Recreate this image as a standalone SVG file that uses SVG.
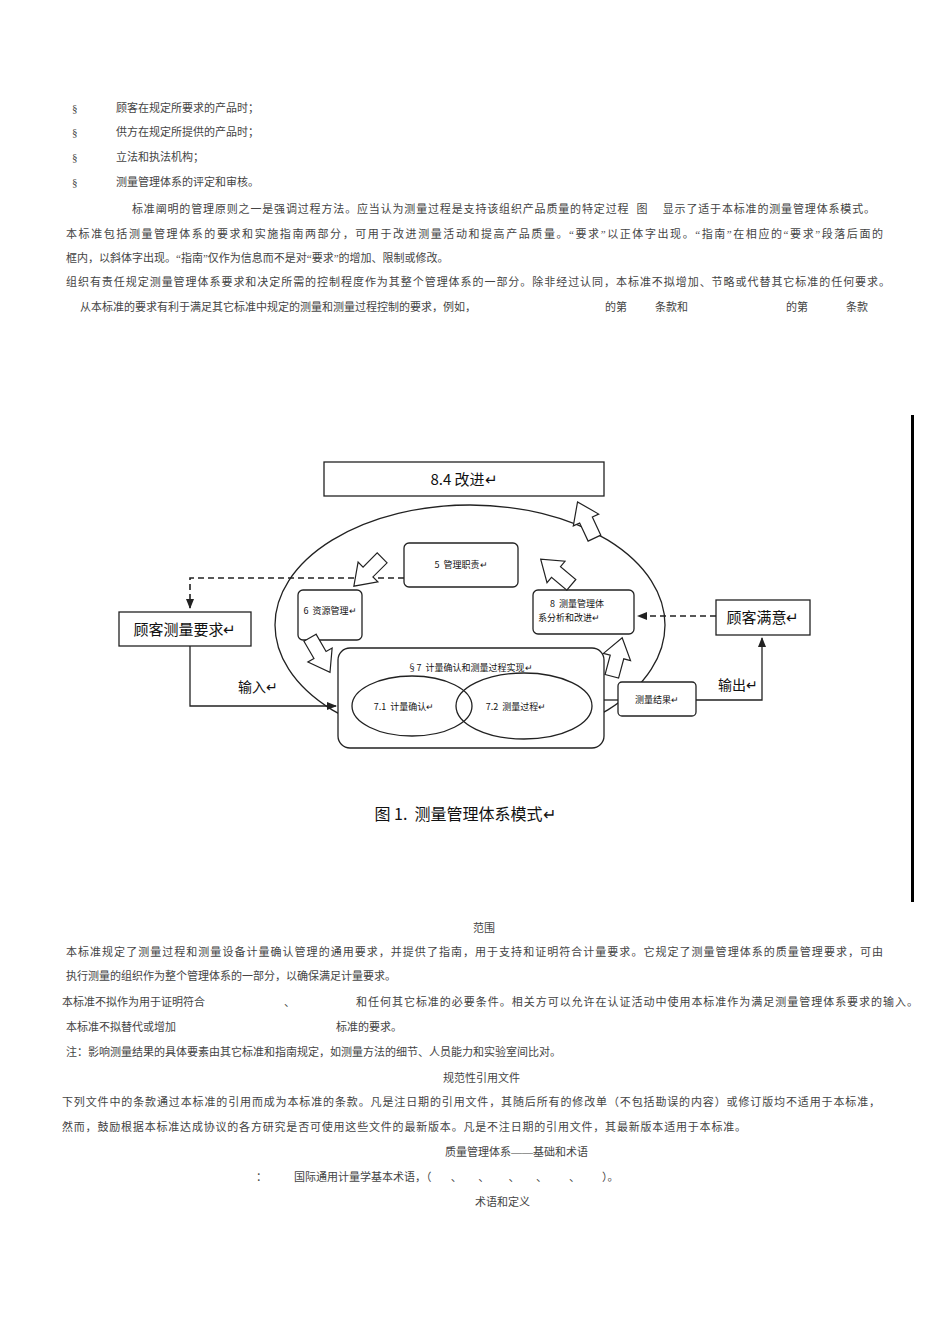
<svg xmlns="http://www.w3.org/2000/svg" width="950" height="1344" viewBox="0 0 950 1344">
<style>
text{white-space:pre}
.t{font-family:"Liberation Serif","Noto Sans CJK SC",serif;font-size:11px;fill:#444}
.d{font-family:"Noto Sans CJK SC",sans-serif;fill:#111}
.b{fill:#fff;stroke:#222;stroke-width:1.3}
.l{fill:none;stroke:#222;stroke-width:1.3}
.dash{fill:none;stroke:#222;stroke-width:1.6;stroke-dasharray:6,4}
</style>
<defs>
<marker id="ah" markerWidth="10" markerHeight="8" refX="9" refY="4" orient="auto" markerUnits="userSpaceOnUse"><path d="M0,0 L10,4 L0,8 Z" fill="#222"/></marker>
<polygon id="ha" points="-7,20 7,20 7,0 14,0 0,-20 -14,0 -7,0" fill="#fff" stroke="#222" stroke-width="1.2"/>
</defs>
<rect width="950" height="1344" fill="#fff"/>
<g class="t">
<text x="72" y="112">§</text><text x="116" y="112">顾客在规定所要求的产品时；</text>
<text x="72" y="136">§</text><text x="116" y="136">供方在规定所提供的产品时；</text>
<text x="72" y="161">§</text><text x="116" y="161">立法和执法机构；</text>
<text x="72" y="186">§</text><text x="116" y="186">测量管理体系的评定和审核。</text>
<text x="132" y="213" textLength="743" lengthAdjust="spacing">标准阐明的管理原则之一是强调过程方法。应当认为测量过程是支持该组织产品质量的特定过程  图    显示了适于本标准的测量管理体系模式。</text>
<text x="66" y="238" textLength="817" lengthAdjust="spacing">本标准包括测量管理体系的要求和实施指南两部分，可用于改进测量活动和提高产品质量。“要求”以正体字出现。“指南”在相应的“要求”段落后面的</text>
<text x="66" y="262">框内，以斜体字出现。“指南”仅作为信息而不是对“要求”的增加、限制或修改。</text>
<text x="66" y="286" textLength="824" lengthAdjust="spacing">组织有责任规定测量管理体系要求和决定所需的控制程度作为其整个管理体系的一部分。除非经过认同，本标准不拟增加、节略或代替其它标准的任何要求。</text>
<text x="80" y="311">从本标准的要求有利于满足其它标准中规定的测量和测量过程控制的要求，例如，</text>
<text x="605" y="311">的第</text><text x="655" y="311">条款和</text><text x="786" y="311">的第</text><text x="846" y="311">条款</text>
<text x="473" y="932">范围</text>
<text x="66" y="956" textLength="817" lengthAdjust="spacing">本标准规定了测量过程和测量设备计量确认管理的通用要求，并提供了指南，用于支持和证明符合计量要求。它规定了测量管理体系的质量管理要求，可由</text>
<text x="66" y="980">执行测量的组织作为整个管理体系的一部分，以确保满足计量要求。</text>
<text x="62" y="1006">本标准不拟作为用于证明符合</text><text x="284" y="1006">、</text><text x="356" y="1006" textLength="562" lengthAdjust="spacing">和任何其它标准的必要条件。相关方可以允许在认证活动中使用本标准作为满足测量管理体系要求的输入。</text>
<text x="66" y="1031">本标准不拟替代或增加</text><text x="336" y="1031">标准的要求。</text>
<text x="66" y="1056">注：影响测量结果的具体要素由其它标准和指南规定，如测量方法的细节、人员能力和实验室间比对。</text>
<text x="443" y="1082">规范性引用文件</text>
<text x="62" y="1106" textLength="818" lengthAdjust="spacing">下列文件中的条款通过本标准的引用而成为本标准的条款。凡是注日期的引用文件，其随后所有的修改单（不包括勘误的内容）或修订版均不适用于本标准，</text>
<text x="62" y="1131" textLength="684" lengthAdjust="spacing">然而，鼓励根据本标准达成协议的各方研究是否可使用这些文件的最新版本。凡是不注日期的引用文件，其最新版本适用于本标准。</text>
<text x="445" y="1156">质量管理体系——基础和术语</text>
<text x="256" y="1181">：</text><text x="294" y="1181">国际通用计量学基本术语，（       、      、       、      、        、        ）。</text>
<text x="475" y="1206">术语和定义</text>
</g>
<rect x="911" y="415" width="3" height="487" fill="#000"/>
<g id="connectors">
<path class="dash" d="M404,578 H190 V608" marker-end="url(#ah)"/>
<path class="dash" d="M716,616 H638" marker-end="url(#ah)"/>
<path class="l" d="M190,646 V706 H336" marker-end="url(#ah)"/>
<path class="l" d="M696,700 H762 V638" marker-end="url(#ah)"/>
<path class="l" d="M604,700 H618"/>
</g>
<ellipse cx="470" cy="625" rx="195" ry="120" class="l"/>
<g id="n84"><rect x="324" y="462" width="280" height="34" class="b"/><text x="464" y="485" class="d" font-size="15" text-anchor="middle">8.4 改进↵</text></g>
<g id="n5"><rect x="404" y="543" width="114" height="44" rx="5" class="b"/><text x="461" y="568" class="d" font-size="9" text-anchor="middle">5  管理职责↵</text></g>
<g id="n6"><rect x="298" y="590" width="64" height="50" rx="5" class="b"/><text x="330" y="614" class="d" font-size="9" text-anchor="middle">6  资源管理↵</text></g>
<g id="n8"><rect x="533" y="590" width="101" height="44" rx="5" class="b"/><text x="550" y="607" class="d" font-size="9">8  测量管理体</text><text x="538" y="621" class="d" font-size="9">系分析和改进↵</text></g>
<g id="nreq"><rect x="119" y="612" width="132" height="34" class="b"/><text x="185" y="635" class="d" font-size="15" text-anchor="middle">顾客测量要求↵</text></g>
<g id="nsat"><rect x="716" y="600" width="94" height="35" class="b"/><text x="763" y="623" class="d" font-size="15" text-anchor="middle">顾客满意↵</text></g>
<g id="n7"><rect x="338" y="648" width="266" height="100" rx="12" class="b"/><text x="470" y="671" class="d" font-size="9" text-anchor="middle">§7  计量确认和测量过程实现↵</text>
<ellipse cx="412" cy="706" rx="60" ry="30" class="b"/><ellipse cx="524" cy="706" rx="68" ry="33" class="b" fill-opacity="0"/>
<text x="404" y="710" class="d" font-size="9" text-anchor="middle">7.1  计量确认↵</text><text x="516" y="710" class="d" font-size="9" text-anchor="middle">7.2  测量过程↵</text></g>
<g id="nres"><rect x="618" y="682" width="78" height="34" rx="4" class="b"/><text x="657" y="703" class="d" font-size="9" text-anchor="middle">测量结果↵</text></g>
<text x="238" y="692" class="d" font-size="14">输入↵</text>
<text x="718" y="690" class="d" font-size="14">输出↵</text>
<g id="arrows">
<use href="#ha" transform="translate(586,520) rotate(-25)"/>
<use href="#ha" transform="translate(368,572) rotate(-135)"/>
<use href="#ha" transform="translate(556,572) rotate(-50)"/>
<use href="#ha" transform="translate(320,655) rotate(150)"/>
<use href="#ha" transform="translate(617,657) rotate(15)"/>
</g>
<text x="465" y="820" class="d" font-size="16" text-anchor="middle">图 1.  测量管理体系模式↵</text>
</svg>
